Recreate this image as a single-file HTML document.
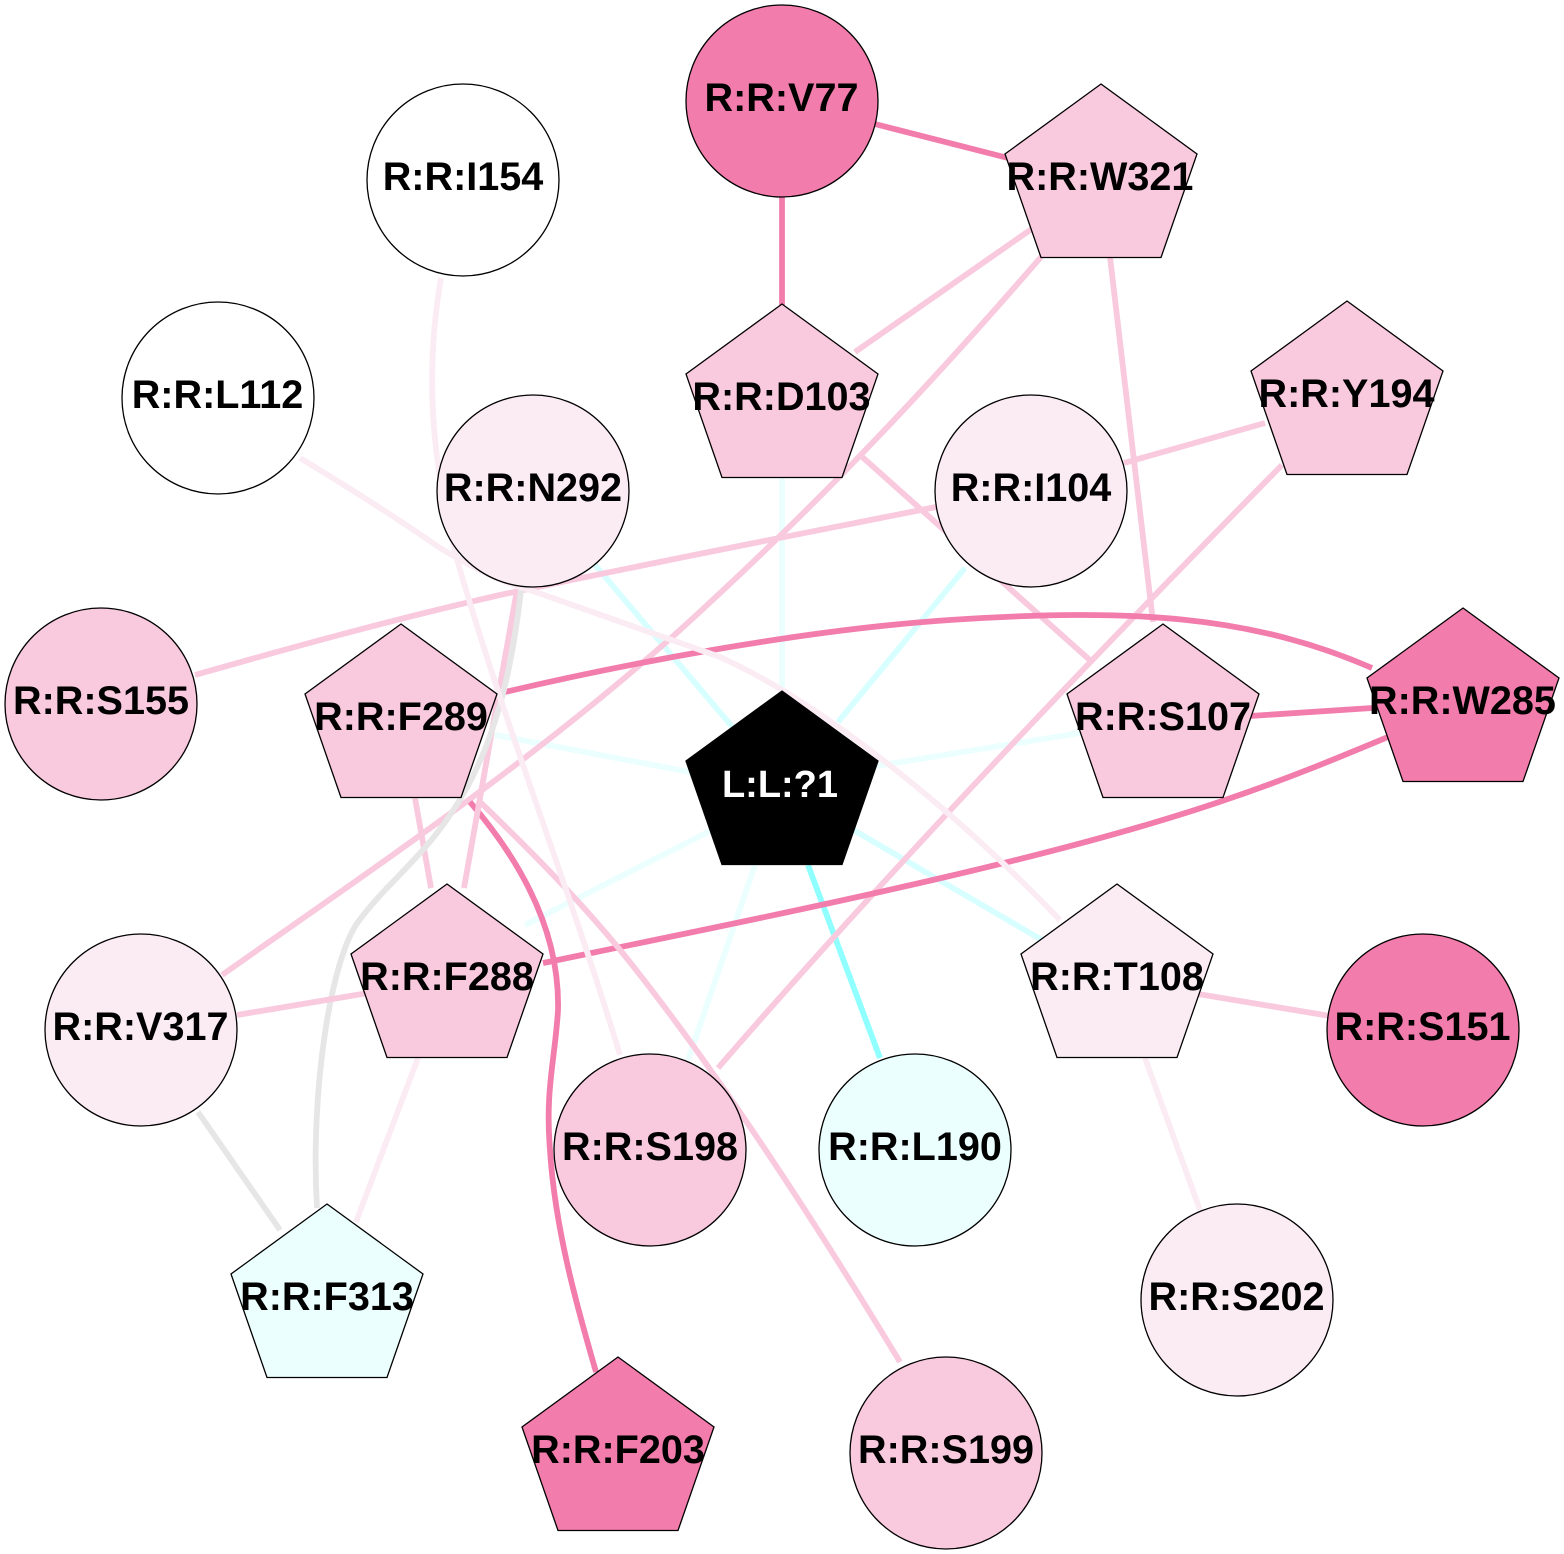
<!DOCTYPE html>
<html><head><meta charset="utf-8"><style>
html,body{margin:0;padding:0;background:#fff}
svg{display:block}
text{font-family:"Liberation Sans",sans-serif;font-weight:bold;font-size:39.6px;text-anchor:middle;fill:#000}
.e{fill:none;stroke-width:5.8}
.d{stroke:#f27cac}.m{stroke:#f9c9de}.l{stroke:#fbecf4}.g{stroke:#e6e6e6}.c{stroke:#eafffe}.c2{stroke:#d8ffff}.c3{stroke:#8fffff}
circle,polygon{stroke:#000;stroke-width:1.3}
</style></head><body>
<svg width="1564" height="1554" viewBox="0 0 1564 1554" xmlns="http://www.w3.org/2000/svg">
<defs><polygon id="p" points="0,0 96,70 60,173.5 -60,173.5 -96,70"/></defs>
<rect width="1564" height="1554" fill="#fff"/>
<g class="edges">
<path class="e c2" d="M595,565L735,730"/>
<path class="e c" d="M782,478L782,700"/>
<path class="e c2" d="M965,568L838,722"/>
<path class="e c" d="M495,735L695,773"/>
<path class="e c" d="M1080,733L870,767"/>
<path class="e c2" d="M1042,940L850,828"/>
<path class="e c" d="M525,925L712,830"/>
<path class="e c" d="M688,1060L755,865"/>
<path class="e c3" d="M880,1058L808,865"/>
<path class="e d" d="M875,124L1008,158"/>
<path class="e d" d="M782,196L782,305"/>
<path class="e m" d="M1033,228L855,352"/>
<path class="e m" d="M1041,257C900,420 790,530 680,630C540,755 400,850 222,975"/>
<path class="e m" d="M1110,257L1153,622"/>
<path class="e m" d="M1265,423L1124,463"/>
<path class="e m" d="M1282,465C1100,650 900,858 718,1068"/>
<path class="e m" d="M936,507C780,538 640,565 500,595C390,620 290,648 195,675"/>
<path class="e m" d="M860,455L1092,662"/>
<path class="e d" d="M505,692C620,665 800,630 950,620C1130,608 1250,615 1372,668"/>
<path class="e d" d="M1250,716L1372,708"/>
<path class="e d" d="M543,963C800,910 1050,860 1225,800C1290,778 1340,757 1388,737"/>
<path class="e d" d="M470,802C520,860 560,930 558,1010C555,1060 545,1090 550,1150C555,1230 578,1310 596,1372"/>
<path class="e m" d="M478,800C530,850 590,910 640,975C730,1090 820,1230 900,1362"/>
<path class="e m" d="M415,798L431,888"/>
<path class="e m" d="M517,590L464,888"/>
<path class="e g" d="M521,590C512,670 495,750 450,815C420,860 385,885 358,922C331,959 310,1090 317,1208"/>
<path class="e m" d="M237,1015L368,993"/>
<path class="e g" d="M198,1112L280,1230"/>
<path class="e l" d="M418,1058L356,1222"/>
<path class="e l" d="M441,278C425,370 430,460 460,570C510,740 570,890 620,1055"/>
<path class="e l" d="M300,458C340,482 400,520 440,548C480,572 510,585 530,590L720,657C815,700 945,800 1060,920"/>
<path class="e m" d="M1198,994L1330,1016"/>
<path class="e l" d="M1145,1058L1200,1210"/>
</g>
<g>
<circle cx="782" cy="101" r="96" fill="#f27cac"/>
<circle cx="463" cy="180" r="96" fill="#fff"/>
<circle cx="218" cy="398" r="96" fill="#fff"/>
<circle cx="533" cy="491" r="96" fill="#fbecf4"/>
<circle cx="1031" cy="491" r="96" fill="#fbecf4"/>
<circle cx="101" cy="704" r="96" fill="#f9c9de"/>
<circle cx="141" cy="1030" r="96" fill="#fbecf4"/>
<circle cx="650" cy="1150" r="96" fill="#f9c9de"/>
<circle cx="915" cy="1150" r="96" fill="#eafffe"/>
<circle cx="1423" cy="1030" r="96" fill="#f27cac"/>
<circle cx="1237" cy="1300" r="96" fill="#fbecf4"/>
<circle cx="946" cy="1453" r="96" fill="#f9c9de"/>
<use href="#p" x="1101" y="84" fill="#f9c9de"/>
<use href="#p" x="782" y="304" fill="#f9c9de"/>
<use href="#p" x="1347" y="301" fill="#f9c9de"/>
<use href="#p" x="401" y="624" fill="#f9c9de"/>
<use href="#p" x="1163" y="624" fill="#f9c9de"/>
<use href="#p" x="1463" y="608" fill="#f27cac"/>
<use href="#p" x="782" y="691" fill="#000"/>
<use href="#p" x="447" y="884" fill="#f9c9de"/>
<use href="#p" x="1117" y="884" fill="#fbecf4"/>
<use href="#p" x="327" y="1204" fill="#eafffe"/>
<use href="#p" x="618" y="1357" fill="#f27cac"/>
</g>
<g>
<text x="781.5" y="111">R:R:V77</text>
<text x="463" y="190">R:R:I154</text>
<text x="217.5" y="408">R:R:L112</text>
<text x="533" y="501">R:R:N292</text>
<text x="1031" y="501">R:R:I104</text>
<text x="101" y="714">R:R:S155</text>
<text x="140.5" y="1040">R:R:V317</text>
<text x="650" y="1160">R:R:S198</text>
<text x="915" y="1160">R:R:L190</text>
<text x="1422.5" y="1040">R:R:S151</text>
<text x="1236.5" y="1310">R:R:S202</text>
<text x="946" y="1463">R:R:S199</text>
<text x="1100" y="190">R:R:W321</text>
<text x="781.5" y="410">R:R:D103</text>
<text x="1346.5" y="407">R:R:Y194</text>
<text x="401" y="730">R:R:F289</text>
<text x="1163" y="730">R:R:S107</text>
<text x="1462.5" y="714">R:R:W285</text>
<text x="780" y="797" style="fill:#fff;font-size:38px">L:L:?1</text>
<text x="447" y="990">R:R:F288</text>
<text x="1117" y="990">R:R:T108</text>
<text x="327" y="1310">R:R:F313</text>
<text x="618" y="1463">R:R:F203</text>
</g>
</svg>
</body></html>
